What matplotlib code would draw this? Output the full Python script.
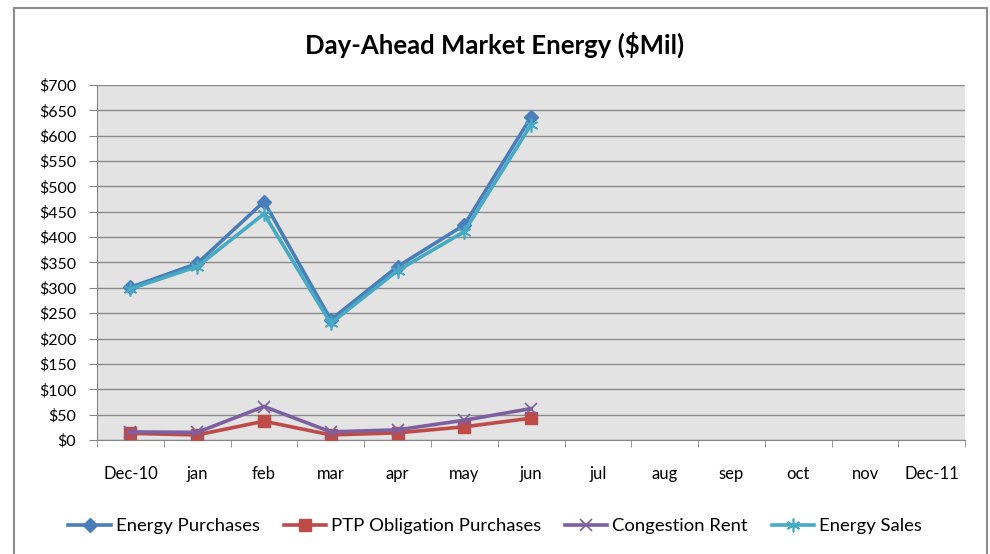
import matplotlib
matplotlib.use('Agg')
import matplotlib.pyplot as plt
from matplotlib.patches import Rectangle

months = ['Dec-10', 'jan', 'feb', 'mar', 'apr', 'may', 'jun',
          'jul', 'aug', 'sep', 'oct', 'nov', 'Dec-11']
energy_purchases = [301, 348, 470, 237, 342, 424, 637]
ptp_purchases = [13, 10, 37, 10, 14, 26, 43]
congestion_rent = [16, 15, 66, 16, 20, 39, 62]
energy_sales = [298, 342, 446, 230, 334, 411, 622]
yticks = list(range(0, 701, 50))

plt.rcParams['font.family'] = ['Lato', 'DejaVu Sans']

fig = plt.figure(figsize=(9.9, 5.54), dpi=100)
ax = fig.add_axes([0.098, 0.2058, 0.877, 0.6408])

# outer chart border
fig.patches.append(Rectangle((14 / 990, -0.05), 973 / 990, 1.05 - 8 / 554,
                             transform=fig.transFigure, fill=False,
                             edgecolor='#8c8c8c', linewidth=1.5))

ax.set_facecolor('#e3e3e3')
x = list(range(len(months)))
n = len(energy_purchases)

ax.plot(x[:n], energy_purchases, color='#4a7ebb', lw=2.6, marker='D', ms=7,
        label='Energy Purchases', zorder=3)
ax.plot(x[:n], ptp_purchases, color='#be4b48', lw=2.6, marker='s', ms=9,
        label='PTP Obligation Purchases', zorder=3)
ax.plot(x[:n], congestion_rent, color='#7d60a0', lw=2.6, marker='x', ms=9,
        mew=1.2, label='Congestion Rent', zorder=4)
ax.plot(x[:n], energy_sales, color='#46aac5', lw=2.6, marker=(6, 2, 0), ms=10,
        mew=1.2, label='Energy Sales', zorder=4)

ax.set_xlim(-0.5, len(months) - 0.5)
ax.set_ylim(0, 700)
ax.set_yticks(yticks)
ax.set_yticklabels(['$%d' % v for v in yticks], fontsize=11.5)
ax.set_xticks(x)
ax.set_xticklabels(months, fontsize=12)
ax.set_xticks([i + 0.5 for i in range(-1, len(months))], minor=True)
ax.tick_params(axis='x', which='major', length=0, pad=19)
ax.tick_params(axis='x', which='minor', length=5, color='#868686')
ax.tick_params(axis='y', length=6, color='#868686', pad=9)

ax.grid(axis='y', color='#8a8a8a', linewidth=1.0)
ax.set_axisbelow(True)
for side in ['top', 'right']:
    ax.spines[side].set_visible(False)
for side in ['left', 'bottom']:
    ax.spines[side].set_color('#868686')

fig.text(0.5, 0.919, 'Day-Ahead Market Energy ($Mil)', ha='center', va='center',
         fontsize=18.5, fontweight='bold')

fig.legend(loc='center', bbox_to_anchor=(0.5, 0.05), ncol=4, frameon=False,
           fontsize=13.3, handlelength=2.3, handletextpad=0.25, columnspacing=1.3)

fig.savefig('out.png', dpi=100)
